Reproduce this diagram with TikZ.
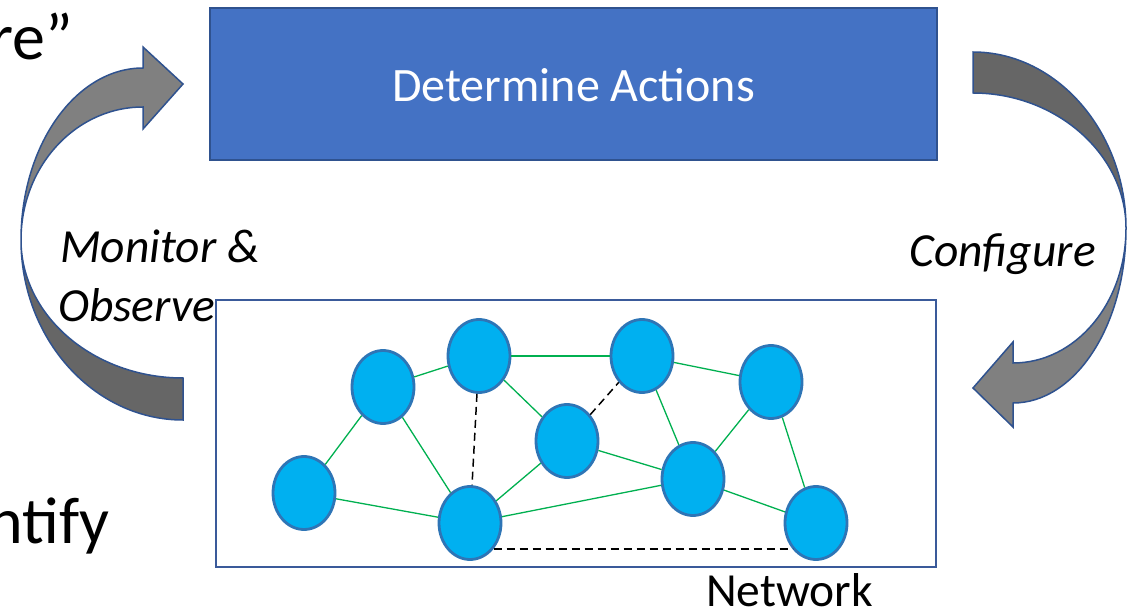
\documentclass[tikz,border=0pt]{standalone}
\usepackage{fontspec}
\setmainfont{Carlito}
\usetikzlibrary{shapes.geometric}
\definecolor{actfill}{HTML}{4472C4}
\definecolor{actdraw}{HTML}{2F528F}
\definecolor{netdraw}{HTML}{3A5A9A}
\definecolor{nodefill}{HTML}{00B0F0}
\definecolor{nodedraw}{HTML}{2E75B6}
\definecolor{edgegreen}{HTML}{00B050}
\definecolor{arrlight}{HTML}{808080}
\definecolor{arrdark}{HTML}{666666}
\definecolor{arrdraw}{HTML}{2F528F}
\tikzset{
  actbox/.style={draw=actdraw, fill=actfill, line width=2.2pt, minimum width=727pt, minimum height=152pt, inner sep=0pt},
  netbox/.style={draw=netdraw, line width=2.2pt, minimum width=720pt, minimum height=267pt, inner sep=0pt},
  vertex/.style={ellipse, draw=nodedraw, fill=nodefill, line width=2.8pt, minimum width=62pt, minimum height=73pt, inner sep=0pt},
  link/.style={draw=edgegreen, line width=1.3pt},
  dlink/.style={draw=black, line width=1.5pt, dash pattern=on 8pt off 5pt},
  lbl/.style={inner sep=0pt, font=\fontsize{47.5}{56}\selectfont\itshape},
  big/.style={inner sep=0pt, font=\fontsize{66}{78}\selectfont},
  curvedarrow/.style={draw=arrdraw, line width=1.5pt, line join=miter}
}
\begin{document}
\begin{tikzpicture}[x=1pt, y=-1pt]
\useasboundingbox (0,0) rectangle (1127,612);
\clip (0,0) rectangle (1127,612);

% partial large texts
\node[big, anchor=base east] (bigre) at (73,60) {re”};
\node[big, anchor=base east] (bigid) at (110,543) {ntify};

% left curved arrow (Monitor & Observe)
\fill[arrdark, curvedarrow] (21,240) .. controls (21,339) and (94,420) .. (183,420)
  -- (183,378) .. controls (94,378) and (21,316) .. (21,240) -- cycle;
\fill[arrlight, curvedarrow] (21,240) .. controls (21,145) and (76,68) .. (143,68)
  -- (143,47) -- (183,84) -- (143,129) -- (143,107)
  .. controls (76,107) and (21,166) .. (21,240) -- cycle;

% right curved arrow (Configure)
\fill[arrlight, curvedarrow] (1126,228) .. controls (1126,326) and (1075,403) .. (1013,403)
  -- (1013,427) -- (973,388) -- (1013,342) -- (1013,363)
  .. controls (1075,363) and (1126,304) .. (1126,228) -- cycle;
\fill[arrdark, curvedarrow] (973,52) .. controls (1057,52) and (1126,132) .. (1126,228)
  .. controls (1126,155) and (1057,93) .. (973,93) -- cycle;

% top box
\node[actbox] (act) at (573.5,84) {};
\node[inner sep=0pt, anchor=base, text=white, font=\fontsize{48}{56}\selectfont] (acttext) at (573.5,102) {Determine Actions};

% labels
\node[lbl, anchor=base west] (monitor) at (60,263) {Monitor \&};
\node[lbl, anchor=base west] (observe) at (58,321) {Observe};
\node[lbl, anchor=base west] (configure) at (909,267) {Configure};
\node[inner sep=0pt, anchor=base west, font=\fontsize{47.5}{56}\selectfont] (network) at (706,606) {Network};

% network box
\node[netbox] (net) at (576,433.5) {};

% vertices
\node[vertex] (n1) at (304,493) {};
\node[vertex] (n2) at (383,387) {};
\node[vertex] (n3) at (479,356) {};
\node[vertex] (n4) at (567,441) {};
\node[vertex] (n5) at (470,523) {};
\node[vertex] (n6) at (642,356) {};
\node[vertex] (n7) at (771,382) {};
\node[vertex] (n8) at (693,479) {};
\node[vertex] (n9) at (816,523) {};

% green links
\draw[link] (n1) -- (n2);
\draw[link] (n1) -- (n5);
\draw[link] (n2) -- (n3);
\draw[link] (n2) -- (n5);
\draw[link] (n3) -- (n6);
\draw[link] (n3) -- (n4);
\draw[link] (n4) -- (n5);
\draw[link] (n4) -- (n8);
\draw[link] (n5) -- (n8);
\draw[link] (n6) -- (n7);
\draw[link] (n6) -- (n8);
\draw[link] (n7) -- (n8);
\draw[link] (n7) -- (n9);
\draw[link] (n8) -- (n9);

% dashed links
\draw[dlink] (n3) -- (n5);
\draw[dlink] (n4) -- (n6);
\draw[dlink] (n5.-48) -- (n9.228);
\end{tikzpicture}
\end{document}
